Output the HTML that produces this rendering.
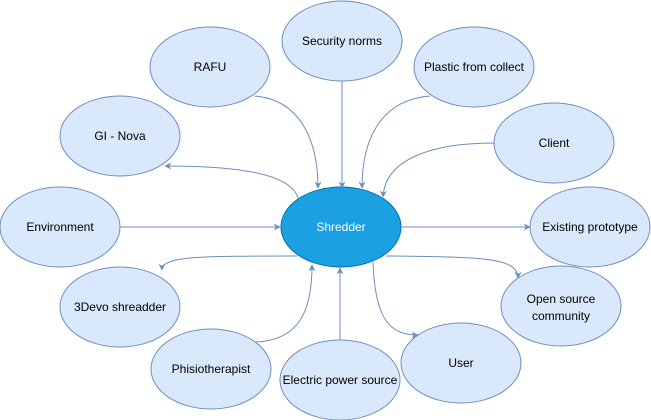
<!DOCTYPE html>
<html><head><meta charset="utf-8"><style>
html,body{margin:0;padding:0;background:#fff;width:651px;height:420px;overflow:hidden}
text{font-family:"Liberation Sans",sans-serif;font-size:12px;text-anchor:middle;dominant-baseline:central;fill:#000}
</style></head><body>
<svg width="651" height="420" viewBox="0 0 651 420" xmlns="http://www.w3.org/2000/svg">
<defs><marker id="a" viewBox="0 0 10 10" refX="9" refY="5" markerWidth="7" markerHeight="7" orient="auto" markerUnits="userSpaceOnUse"><path d="M0,0 L10,5 L0,10 L3,5 z" fill="#6c8ebf"/></marker></defs>
<g fill="#dae8fc" stroke="#6c8ebf" stroke-width="1">
<ellipse cx="342" cy="41" rx="60" ry="40"/>
<ellipse cx="210" cy="67" rx="60" ry="40"/>
<ellipse cx="474" cy="67" rx="60" ry="40"/>
<ellipse cx="120" cy="136" rx="60" ry="40"/>
<ellipse cx="554" cy="143" rx="60" ry="40"/>
<ellipse cx="60" cy="227" rx="60" ry="40"/>
<ellipse cx="590" cy="227" rx="60" ry="40"/>
<ellipse cx="120" cy="307" rx="60" ry="40"/>
<ellipse cx="561" cy="306" rx="60" ry="40"/>
<ellipse cx="211" cy="369" rx="60" ry="40"/>
<ellipse cx="340" cy="380" rx="60" ry="40"/>
<ellipse cx="461" cy="363" rx="60" ry="40"/>
</g>
<ellipse cx="341" cy="227" rx="60" ry="40" fill="#1ba1e2" stroke="#006eaf"/>
<g fill="none" stroke="#6c8ebf" stroke-width="1" marker-end="url(#a)">
<path d="M255,96 C300,100 318,140 318,188"/>
<path d="M342,81 L342,188"/>
<path d="M430,96 C380,100 362,140 362,188"/>
<path d="M494,143 C430,143 385,160 383,197"/>
<path d="M298,198 C290,170 220,166 165,166"/>
<path d="M120,227 L280,227"/>
<path d="M401,227 L530,227"/>
<path d="M297,256 C200,256 162,256 162,270"/>
<path d="M386,256 C480,257 518,257 518,278"/>
<path d="M373,262 C375,320 390,335 418,335"/>
<path d="M256,342 C300,340 312,310 312,265"/>
<path d="M340,340 L340,268"/>
</g>
<text x="342" y="41">Security norms</text>
<text x="210" y="67">RAFU</text>
<text x="474" y="67">Plastic from collect</text>
<text x="120" y="136">GI - Nova</text>
<text x="554" y="143">Client</text>
<text x="60" y="227">Environment</text>
<text x="341" y="227" style="fill:#fff">Shredder</text>
<text x="590" y="227">Existing prototype</text>
<text x="120" y="307">3Devo shreadder</text>
<text x="561" y="299">Open source</text>
<text x="561" y="316">community</text>
<text x="211" y="369">Phisiotherapist</text>
<text x="340" y="380">Electric power source</text>
<text x="461" y="363">User</text>
</svg>
</body></html>
